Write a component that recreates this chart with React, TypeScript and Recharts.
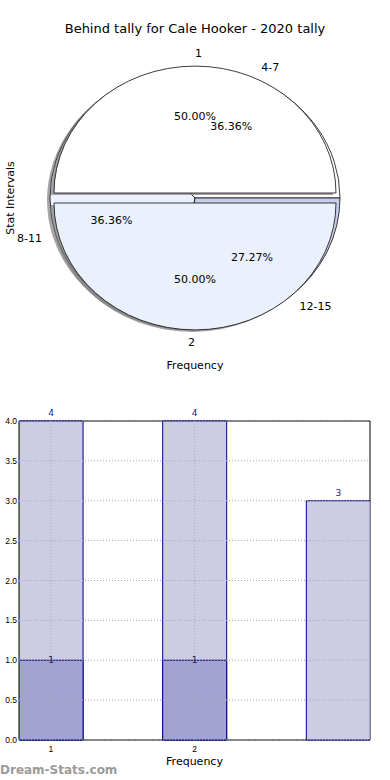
import React from 'react';
import {
  PieChart,
  Pie,
  Cell,
  BarChart,
  Bar,
  XAxis,
  YAxis,
  LabelList,
  ReferenceArea,
  ReferenceLine,
} from 'recharts';

const title = 'Behind tally for Cale Hooker - 2020 tally';

// front pie (exploded)
const frontNames = ['1', '2'];
const frontValues = [1, 1];
const frontColors = ['#ffffff', '#eaf0fc'];

// back pie
const backNames = ['4-7', '8-11', '12-15'];
const backValues = [4, 4, 3];
const backColors = ['#ffffff', '#eaf0fc', '#c8cce8'];

// histogram
const barPositions = [1, 2, 3];
const lightValues = [4, 4, 3];
const darkValues = [1, 1, 0];
const xTicks = [1, 2];
const yTicks = [0, 0.5, 1, 1.5, 2, 2.5, 3, 3.5, 4];
const xDomain: [number, number] = [0.778, 3.222];

const frontData = frontNames.map((name, i) => ({ name, value: frontValues[i] }));
const backData = backNames.map((name, i) => ({ name, value: backValues[i] }));
const barData = barPositions.map((x, i) => ({ x, light: lightValues[i], dark: darkValues[i] }));

const CX = 195;
const CY = 198;
const FRONT_R = 141;
const BACK_R = 145;
const SQUASH = 0.9;
const EXPLODE = 0.04;

const css = `
.sq { transform: scaleY(${SQUASH}); transform-origin: ${CX}px ${CY}px; }
.sq-shadow { transform: translate(-3px, 2px) scaleY(${SQUASH}); transform-origin: ${CX}px ${CY}px; }
.sq-up { transform: translate(0px, -5px) scaleY(${SQUASH}); transform-origin: ${CX}px ${CY}px; }
.sq-down { transform: translate(0px, 5px) scaleY(${SQUASH}); transform-origin: ${CX}px ${CY}px; }
.sq-up-shadow { transform: translate(-3px, -3px) scaleY(${SQUASH}); transform-origin: ${CX}px ${CY}px; }
.sq-down-shadow { transform: translate(-3px, 7px) scaleY(${SQUASH}); transform-origin: ${CX}px ${CY}px; }
`;

const explodeClass = ['sq-up', 'sq-down'];

// matplotlib-like labels: name at 1.1r, percentage at 0.6r, on an elliptical pie
function makeLabel(r: number, explode: number) {
  const rx = r;
  const ry = r * SQUASH;
  return (props: any) => {
    const a = (props.midAngle * Math.PI) / 180;
    const c = Math.cos(a);
    const s = Math.sin(a);
    const ox = CX + explode * rx * c;
    const oy = CY - explode * ry * s;
    const anchor = c > 0 ? 'start' : c < 0 ? 'end' : 'middle';
    return (
      <g>
        <text x={ox + 1.1 * rx * c} y={oy - 1.1 * ry * s} textAnchor={anchor} dominantBaseline="central" fontSize={11} fill="#000">
          {props.name}
        </text>
        <text x={ox + 0.6 * rx * c} y={oy - 0.6 * ry * s} textAnchor="middle" dominantBaseline="central" fontSize={11} fill="#000">
          {`${(props.percent * 100).toFixed(2)}%`}
        </text>
      </g>
    );
  };
}

const pieProps = {
  cx: CX,
  cy: CY,
  dataKey: 'value',
  startAngle: 0,
  endAngle: 360,
  isAnimationActive: false,
  labelLine: false,
};

const gridStyle = { stroke: '#a8a8a8', strokeDasharray: '1 2', strokeWidth: 1 };
const tickFont = { fontSize: 8.5, fill: '#000', fontFamily: '"Liberation Sans", sans-serif' };

export default function App() {
  return (
    <div
      style={{
        position: 'absolute',
        left: 0,
        top: 0,
        width: 390,
        height: 780,
        background: '#fff',
        fontFamily: '"DejaVu Sans", sans-serif',
        overflow: 'hidden',
      }}
    >
      <style>{css}</style>

      <div style={{ position: 'absolute', top: 21, left: 0, width: 390, textAlign: 'center', fontSize: 13, color: '#000' }}>
        {title}
      </div>

      <div style={{ position: 'absolute', left: 0, top: 0 }}>
        <PieChart width={390} height={390} margin={{ top: 0, right: 0, bottom: 0, left: 0 }}>
          {/* back pie shadow */}
          <Pie {...pieProps} data={backData} outerRadius={BACK_R} stroke="none" label={false}>
            {backData.map((d) => (
              <Cell key={d.name} className="sq-shadow" fill="#7f7f7f" fillOpacity={0.7} />
            ))}
          </Pie>
          {/* back pie */}
          <Pie {...pieProps} data={backData} outerRadius={BACK_R} stroke="#000" strokeWidth={0.8} label={false}>
            {backData.map((d, i) => (
              <Cell key={d.name} className="sq" fill={backColors[i]} />
            ))}
          </Pie>
          {/* front pie shadow */}
          <Pie {...pieProps} data={frontData} outerRadius={FRONT_R} stroke="none" label={false}>
            {frontData.map((d, i) => (
              <Cell key={d.name} className={`${explodeClass[i]}-shadow`} fill="#7f7f7f" fillOpacity={0.7} />
            ))}
          </Pie>
          {/* front pie */}
          <Pie {...pieProps} data={frontData} outerRadius={FRONT_R} stroke="#000" strokeWidth={0.8} label={makeLabel(FRONT_R, EXPLODE)}>
            {frontData.map((d, i) => (
              <Cell key={d.name} className={explodeClass[i]} fill={frontColors[i]} />
            ))}
          </Pie>
          {/* labels of the back pie, drawn on top */}
          <Pie {...pieProps} data={backData} outerRadius={BACK_R} fill="none" stroke="none" label={makeLabel(BACK_R, 0)} />
        </PieChart>
      </div>

      <div
        style={{
          position: 'absolute',
          left: 10,
          top: 198,
          transform: 'translate(-50%, -50%) rotate(-90deg)',
          fontSize: 11,
          whiteSpace: 'nowrap',
        }}
      >
        Stat Intervals
      </div>
      <div style={{ position: 'absolute', top: 359, left: 0, width: 390, textAlign: 'center', fontSize: 11 }}>Frequency</div>

      <div style={{ position: 'absolute', left: 0, top: 400 }}>
        <BarChart width={390} height={380} data={barData} margin={{ top: 21, right: 20, bottom: 10, left: 0 }}>
          <XAxis
            xAxisId={0}
            dataKey="x"
            type="number"
            domain={xDomain}
            ticks={xTicks}
            allowDataOverflow
            axisLine={false}
            tickLine={false}
            tickSize={4}
            tickMargin={2}
            height={30}
            tick={tickFont}
            label={{ value: 'Frequency', position: 'insideBottom', offset: 5, fontSize: 11, fill: '#000' }}
          />
          <XAxis xAxisId={1} dataKey="x" type="number" domain={xDomain} allowDataOverflow hide />
          <YAxis
            domain={[0, 4]}
            ticks={yTicks}
            width={19}
            axisLine={false}
            tickLine={false}
            tickSize={0}
            tickMargin={2}
            tick={tickFont}
            tickFormatter={(v: number) => v.toFixed(1)}
          />
          <Bar xAxisId={0} dataKey="light" barSize={64} fill="#ccccE4" stroke="#000080" strokeWidth={1} isAnimationActive={false}>
            <LabelList dataKey="light" position="top" offset={5} fontSize={9} fill="#1c1c8c" />
          </Bar>
          <Bar xAxisId={1} dataKey="dark" barSize={64} fill="#a2a3d0" stroke="#000080" strokeWidth={1} isAnimationActive={false}>
            <LabelList
              dataKey="dark"
              position="top"
              offset={-3}
              fontSize={9}
              fill="#1a1a50"
              formatter={(v: any) => (v ? v : '')}
            />
          </Bar>
          {/* grid drawn above the bars, as in the original */}
          {yTicks.map((t) => (
            <ReferenceLine key={`y${t}`} xAxisId={0} y={t} {...gridStyle} />
          ))}
          {xTicks.map((t) => (
            <ReferenceLine key={`x${t}`} xAxisId={0} x={t} {...gridStyle} />
          ))}
          <ReferenceArea xAxisId={0} x1={xDomain[0]} x2={xDomain[1]} y1={0} y2={4} fill="none" stroke="#000" strokeWidth={1} />
        </BarChart>
      </div>

      <div style={{ position: 'absolute', left: 0, top: 763, fontSize: 12, color: '#9a9a9a', fontWeight: 'bold' }}>
        Dream-Stats.com
      </div>
    </div>
  );
}
